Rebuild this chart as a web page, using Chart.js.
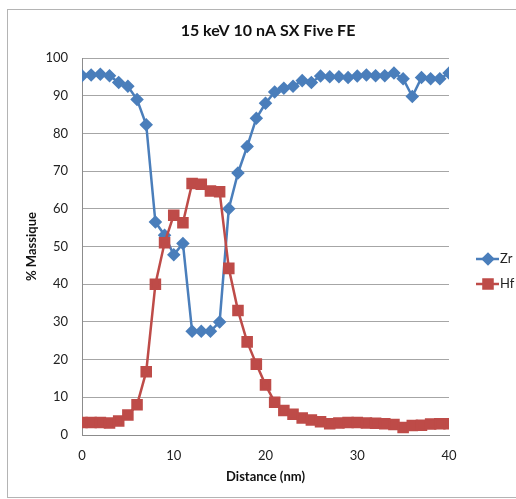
<!DOCTYPE html>
<html>
<head>
<meta charset="utf-8">
<script src="https://cdn.jsdelivr.net/npm/chart.js@4/dist/chart.umd.min.js"></script>
<style>
    html, body { margin: 0; padding: 0; background: #fff; }
    #wrap { width: 516px; height: 499px; position: relative; }
</style>
</head>
<body>
<div id="wrap"><canvas id="profile"></canvas></div>
<script>
/* ================= DATA ================= */
const distance = [0, 1, 2, 3, 4, 5, 6, 7, 8, 9, 10, 11, 12, 13, 14, 15, 16, 17, 18, 19, 20,
    21, 22, 23, 24, 25, 26, 27, 28, 29, 30, 31, 32, 33, 34, 35, 36, 37, 38, 39, 40];

const zrValues = [95.3, 95.5, 95.7, 95.3, 93.5, 92.5, 89.0, 82.3, 56.5, 53.0, 47.8, 50.8, 27.5,
    27.5, 27.5, 30.0, 60.0, 69.5, 76.5, 84.0, 88.0, 91.0, 92.0, 92.5, 94.0, 93.5, 95.2, 95.0,
    95.0, 94.8, 95.2, 95.5, 95.3, 95.3, 96.0, 94.5, 89.8, 94.8, 94.5, 94.5, 96.0];

const hfValues = [3.3, 3.3, 3.3, 3.2, 3.7, 5.3, 8.0, 16.8, 40.0, 51.0, 58.3, 56.3, 66.7,
    66.5, 64.7, 64.5, 44.2, 33.0, 24.7, 18.8, 13.3, 8.7, 6.5, 5.5, 4.5, 4.0, 3.5, 3.0,
    3.2, 3.3, 3.3, 3.2, 3.1, 3.0, 2.8, 2.0, 2.5, 2.6, 2.9, 3.0, 3.0];

const seriesNames = ["Zr", "Hf"];
const yTicks = [0, 10, 20, 30, 40, 50, 60, 70, 80, 90, 100];
const xTicks = [0, 10, 20, 30, 40];

const FONT = "Lato, 'Liberation Sans', sans-serif";
const BLUE = "#4a7ebb";
const RED = "#be4b48";

/* ================= FRAME + LEGEND ================= */
const framePlugin = {
    id: "frame",
    beforeDraw(chart) {
        const ctx = chart.ctx;
        ctx.save();
        ctx.fillStyle = "#fff";
        ctx.fillRect(0, 0, chart.width, chart.height);
        ctx.strokeStyle = "#b4b4b4";
        ctx.lineWidth = 1;
        ctx.strokeRect(7.5, 9.5, 620, 488);
        ctx.restore();
    }
};

const sideLegend = {
    id: "sideLegend",
    afterDraw(chart) {
        const ctx = chart.ctx;
        const rows = [259, 284];
        ctx.save();
        chart.data.datasets.forEach((ds, i) => {
            const y = rows[i];
            ctx.strokeStyle = ds.borderColor;
            ctx.lineWidth = 2.5;
            ctx.beginPath();
            ctx.moveTo(476, y);
            ctx.lineTo(499, y);
            ctx.stroke();
            Chart.helpers.drawPoint(ctx, {
                pointStyle: ds.pointStyle,
                radius: ds.pointRadius,
                borderWidth: 1
            }, 488, y);
            ctx.fillStyle = ds.pointBackgroundColor;
            ctx.fill();
            ctx.fillStyle = "#222";
            ctx.font = "13px " + FONT;
            ctx.textBaseline = "middle";
            ctx.textAlign = "left";
            ctx.fillText(ds.label, 500, y);
        });
        ctx.restore();
    }
};

/* ================= CHART ================= */
const toPoints = vals => distance.map((d, i) => ({ x: d, y: vals[i] }));

new Chart(document.getElementById("profile"), {
    type: "line",
    data: {
        datasets: [
            {
                label: seriesNames[0],
                data: toPoints(zrValues),
                borderColor: BLUE,
                backgroundColor: BLUE,
                pointBackgroundColor: BLUE,
                pointBorderColor: BLUE,
                pointStyle: "rectRot",
                pointRadius: 5,
                borderWidth: 2.5,
                tension: 0,
                order: 1
            },
            {
                label: seriesNames[1],
                data: toPoints(hfValues),
                borderColor: RED,
                backgroundColor: RED,
                pointBackgroundColor: RED,
                pointBorderColor: RED,
                pointStyle: "rect",
                pointRadius: 6.4,
                borderWidth: 2.5,
                tension: 0,
                order: 0
            }
        ]
    },
    options: {
        responsive: true,
        maintainAspectRatio: false,
        animation: false,
        layout: { padding: { top: 9, right: 0, left: 20, bottom: 0 } },
        plugins: {
            legend: { display: false },
            tooltip: { enabled: false },
            title: {
                display: true,
                text: "15 keV 10 nA SX Five FE",
                color: "#111",
                font: { family: FONT, size: 16, weight: "bold" },
                padding: { top: 12, bottom: 17.8 }
            }
        },
        scales: {
            x: {
                type: "linear",
                min: 0,
                max: 40,
                afterFit: s => { s.height = 64; },
                afterBuildTicks: s => { s.ticks = xTicks.map(v => ({ value: v })); },
                grid: { display: false, drawTicks: false },
                border: { display: true, color: "#8c8c8c", width: 1 },
                ticks: {
                    padding: 13,
                    color: "#222",
                    font: { family: FONT, size: 13 },
                    maxRotation: 0
                },
                title: {
                    display: true,
                    text: "Distance (nm)",
                    color: "#111",
                    font: { family: FONT, size: 13, weight: "bold" },
                    padding: { top: 0, bottom: 14 }
                }
            },
            y: {
                min: 0,
                max: 100,
                afterFit: s => { s.width = 62; },
                afterBuildTicks: s => { s.ticks = yTicks.map(v => ({ value: v })); },
                grid: { color: "#a6a6a6", lineWidth: 1, drawTicks: false },
                border: { display: true, color: "#8c8c8c", width: 1 },
                ticks: {
                    padding: 14,
                    color: "#222",
                    font: { family: FONT, size: 13 }
                },
                title: {
                    display: true,
                    text: "% Massique",
                    color: "#111",
                    font: { family: FONT, size: 13, weight: "bold" },
                    padding: { top: 4, bottom: 0 }
                }
            },
            // empty right-hand box that leaves room for the legend
            legendSpace: {
                type: "linear",
                position: "right",
                display: true,
                afterFit: s => { s.width = 67; },
                grid: { display: false, drawTicks: false },
                border: { display: false },
                ticks: { display: false }
            }
        }
    },
    plugins: [framePlugin, sideLegend]
});
</script>
</body>
</html>
